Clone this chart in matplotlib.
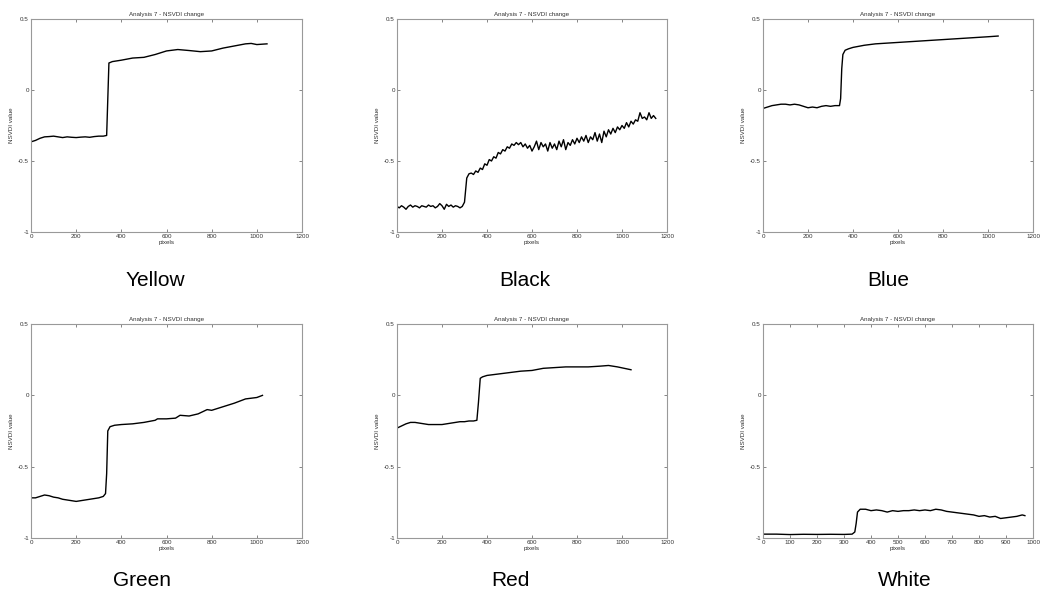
import matplotlib
matplotlib.use("Agg")
import matplotlib.pyplot as plt
import numpy as np

plt.rcParams['font.family'] = ['Liberation Sans', 'DejaVu Sans']

TITLE = "Analysis 7 - NSVDI change"
YLABEL = "NSVDI value"
XLABEL = "pixels"
names = ["Yellow", "Black", "Blue", "Green", "Red", "White"]

yellow_x = [0, 20, 40, 60, 80, 100, 120, 140, 160, 180, 200, 220, 240, 260, 280, 300, 320, 335, 345, 360,
            400, 450, 500, 550, 600, 650, 700, 750, 800, 850, 900, 950, 975, 1000, 1045]
yellow_y = [-0.365, -0.355, -0.34, -0.33, -0.328, -0.325, -0.33, -0.335, -0.33, -0.333, -0.335, -0.332, -0.33,
            -0.333, -0.328, -0.325, -0.325, -0.32, 0.19, 0.20, 0.21, 0.225, 0.23, 0.25, 0.275, 0.285, 0.278,
            0.27, 0.275, 0.295, 0.31, 0.325, 0.328, 0.32, 0.325]

black_x = list(range(0, 1160, 10))
black_y = [-0.82, -0.83, -0.815, -0.825, -0.84, -0.82, -0.81, -0.825, -0.815, -0.82,
           -0.83, -0.815, -0.82, -0.825, -0.81, -0.82, -0.815, -0.83, -0.82, -0.80,
           -0.815, -0.84, -0.805, -0.82, -0.81, -0.825, -0.815, -0.82, -0.83, -0.82,
           -0.79, -0.62, -0.59, -0.585, -0.595, -0.57, -0.58, -0.55, -0.56, -0.52,
           -0.53, -0.49, -0.50, -0.47, -0.48, -0.44, -0.45, -0.42, -0.43, -0.40,
           -0.41, -0.38, -0.39, -0.37, -0.385, -0.37, -0.40, -0.38, -0.41, -0.39,
           -0.43, -0.40, -0.36, -0.42, -0.37, -0.40, -0.38, -0.43, -0.37, -0.41,
           -0.38, -0.42, -0.36, -0.40, -0.35, -0.42, -0.37, -0.39, -0.35, -0.38,
           -0.34, -0.37, -0.33, -0.36, -0.32, -0.37, -0.33, -0.35, -0.30, -0.36,
           -0.31, -0.37, -0.29, -0.33, -0.28, -0.31, -0.27, -0.30, -0.26, -0.28,
           -0.25, -0.27, -0.23, -0.26, -0.22, -0.24, -0.21, -0.22, -0.16, -0.20,
           -0.19, -0.21, -0.16, -0.20, -0.18, -0.20]

blue_x = [0, 20, 40, 60, 80, 100, 120, 140, 160, 180, 200, 220, 240, 260, 280, 300, 320, 340, 345, 350, 355,
          365, 380, 400, 450, 500, 550, 600, 650, 700, 750, 800, 850, 900, 950, 1000, 1045]
blue_y = [-0.13, -0.12, -0.11, -0.105, -0.10, -0.10, -0.105, -0.10, -0.105, -0.115, -0.125, -0.12, -0.125,
          -0.115, -0.11, -0.115, -0.11, -0.11, -0.06, 0.15, 0.25, 0.28, 0.29, 0.30, 0.315, 0.325, 0.33, 0.335,
          0.34, 0.345, 0.35, 0.355, 0.36, 0.365, 0.37, 0.375, 0.38]

green_x = [0, 20, 40, 60, 80, 100, 120, 140, 160, 180, 200, 220, 240, 260, 280, 300, 320, 330, 335, 340, 350,
           370, 400, 450, 500, 550, 560, 600, 640, 660, 700, 740, 780, 800, 850, 900, 950, 1000, 1025]
green_y = [-0.72, -0.72, -0.71, -0.70, -0.705, -0.715, -0.72, -0.73, -0.735, -0.74, -0.745, -0.74, -0.735,
           -0.73, -0.725, -0.72, -0.71, -0.69, -0.55, -0.25, -0.22, -0.21, -0.205, -0.20, -0.19, -0.175,
           -0.165, -0.165, -0.16, -0.14, -0.145, -0.13, -0.10, -0.105, -0.08, -0.055, -0.025, -0.015, 0.0]

red_x = [0, 20, 40, 60, 80, 100, 120, 140, 160, 180, 200, 220, 240, 260, 280, 300, 320, 340, 355, 362, 370,
         380, 400, 450, 500, 550, 600, 650, 700, 750, 800, 850, 900, 940, 980, 1040]
red_y = [-0.23, -0.215, -0.20, -0.19, -0.19, -0.195, -0.20, -0.205, -0.205, -0.205, -0.205, -0.20, -0.195,
         -0.19, -0.185, -0.185, -0.18, -0.18, -0.175, -0.05, 0.12, 0.13, 0.14, 0.15, 0.16, 0.17, 0.175, 0.19,
         0.195, 0.20, 0.20, 0.20, 0.205, 0.21, 0.20, 0.18]

white_x = [0, 50, 100, 150, 200, 250, 300, 330, 340, 345, 350, 360, 380, 400, 420, 440, 460, 480, 500, 520,
           540, 560, 580, 600, 620, 640, 660, 680, 700, 720, 740, 760, 780, 800, 820, 840, 860, 880, 900, 920,
           940, 960, 970]
white_y = [-0.975, -0.975, -0.978, -0.976, -0.977, -0.976, -0.977, -0.975, -0.96, -0.90, -0.82, -0.80, -0.80,
           -0.81, -0.805, -0.81, -0.82, -0.81, -0.815, -0.81, -0.81, -0.805, -0.81, -0.805, -0.81, -0.80,
           -0.805, -0.815, -0.82, -0.825, -0.83, -0.835, -0.84, -0.85, -0.845, -0.855, -0.85, -0.865, -0.86,
           -0.855, -0.85, -0.84, -0.845]

series = [(yellow_x, yellow_y), (black_x, black_y), (blue_x, blue_y),
          (green_x, green_y), (red_x, red_y), (white_x, white_y)]
xmaxes = [1200, 1200, 1200, 1200, 1200, 1000]
xsteps = [200, 200, 200, 200, 200, 100]

W, H = 1045, 598
fig = plt.figure(figsize=(W / 100, H / 100), dpi=100)

lefts = [31, 397, 763]
widths = [271, 270, 270]
bottoms = [232, 537.7]
heights = [213, 213.5]
label_centers = [[155, 525, 888], [142, 510, 905]]
label_y = [281, 580]

for i, ((xs, ys), name) in enumerate(zip(series, names)):
    r, c = divmod(i, 3)
    ax = fig.add_axes([lefts[c] / W, 1 - bottoms[r] / H, widths[c] / W, heights[r] / H])
    ax.plot(xs, ys, color='black', lw=1.0)
    ax.set_xlim(0, xmaxes[i])
    ax.set_ylim(-1, 0.5)
    ax.set_xticks(np.arange(0, xmaxes[i] + 1, xsteps[i]))
    ax.set_yticks([-1, -0.5, 0, 0.5])
    ax.set_yticklabels(["-1", "-0.5", "0", "0.5"])
    ax.tick_params(direction='in', top=True, right=True, length=2.5, width=0.5,
                   labelsize=4.5, pad=1.5, colors='#555555', labelcolor='#333333')
    for s in ax.spines.values():
        s.set_color('#999999')
        s.set_linewidth(0.8)
    ax.set_title(TITLE, fontsize=4.5, pad=2.5, color='#333333')
    ax.set_xlabel(XLABEL, fontsize=4.5, labelpad=1, color='#333333')
    ax.set_ylabel(YLABEL, fontsize=4.5, labelpad=3, color='#333333')
    fig.text(label_centers[r][c] / W, 1 - label_y[r] / H, name, fontsize=15,
             ha='center', va='center', color='black')

fig.savefig("out.png", dpi=100)
